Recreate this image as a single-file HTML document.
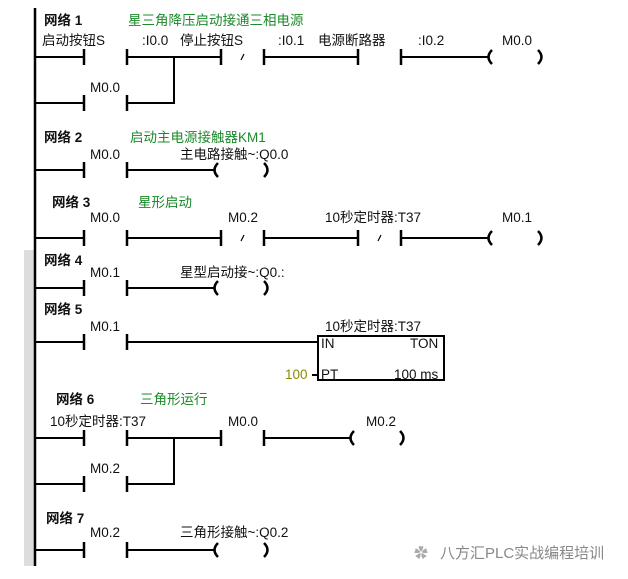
<!DOCTYPE html>
<html><head><meta charset="utf-8"><style>
html,body{margin:0;padding:0;background:#fff;}
svg{display:block;}
text{font-family:"Liberation Sans","Noto Sans CJK SC",sans-serif;font-size:13.5px;fill:#111;}
.n{font-weight:bold;font-size:13.5px;}
.g{fill:#1a8a2a;}
</style></head><body>
<svg width="628" height="579" viewBox="0 0 628 579" xmlns="http://www.w3.org/2000/svg">
<defs>
<g id="no"><line x1="0" y1="-8" x2="0" y2="8" stroke="#000" stroke-width="2.5"/><line x1="43" y1="-8" x2="43" y2="8" stroke="#000" stroke-width="2.5"/></g>
<g id="nc"><use href="#no"/><line x1="20" y1="3" x2="23" y2="-3" stroke="#000" stroke-width="1.2"/></g>
<g id="coil"><path d="M6,-7 Q-1,0 6,7" fill="none" stroke="#000" stroke-width="2.5"/><path d="M52,-7 Q59,0 52,7" fill="none" stroke="#000" stroke-width="2.5"/></g>
</defs>
<rect x="24" y="250" width="10" height="316" fill="#ddd"/>
<line x1="35" y1="8" x2="35" y2="566" stroke="#000" stroke-width="2.5"/>
<g stroke="#000" stroke-width="2" fill="none">
<path d="M35,57H84M127,57H221M264,57H358M401,57H488"/>
<path d="M35,103H84M127,103H174V57"/>
<path d="M35,170H84M127,170H214"/>
<path d="M35,238H84M127,238H221M264,238H358M401,238H488"/>
<path d="M35,288H84M127,288H214"/>
<path d="M35,342H84M127,342H318"/>
<rect x="318" y="336" width="126" height="44"/>
<path d="M312,375H318"/>
<path d="M35,438H84M127,438H221M264,438H350"/>
<path d="M35,484H84M127,484H174V438"/>
<path d="M35,550H84M127,550H214"/>
</g>
<use href="#no" x="84" y="57"/><use href="#nc" x="221" y="57"/><use href="#no" x="358" y="57"/><use href="#coil" x="486" y="57"/>
<use href="#no" x="84" y="103"/>
<use href="#no" x="84" y="170"/><use href="#coil" x="212" y="170"/>
<use href="#no" x="84" y="238"/><use href="#nc" x="221" y="238"/><use href="#nc" x="358" y="238"/><use href="#coil" x="486" y="238"/>
<use href="#no" x="84" y="288"/><use href="#coil" x="212" y="288"/>
<use href="#no" x="84" y="342"/>
<use href="#no" x="84" y="438"/><use href="#no" x="221" y="438"/><use href="#coil" x="348" y="438"/>
<use href="#no" x="84" y="484"/>
<use href="#no" x="84" y="550"/><use href="#coil" x="212" y="550"/>

<text class="n" x="44" y="25">网络 1</text><text class="g" x="128" y="25">星三角降压启动接通三相电源</text>
<text x="42" y="45">启动按钮S</text><text x="142" y="45">:I0.0</text><text x="180" y="45">停止按钮S</text><text x="278" y="45">:I0.1</text><text x="318" y="45">电源断路器</text><text x="418" y="45">:I0.2</text><text x="502" y="45">M0.0</text>
<text x="90" y="92">M0.0</text>

<text class="n" x="44" y="142">网络 2</text><text class="g" x="130" y="142">启动主电源接触器KM1</text>
<text x="90" y="159">M0.0</text><text x="180" y="159">主电路接触~:Q0.0</text>

<text class="n" x="52" y="207">网络 3</text><text class="g" x="138" y="207">星形启动</text>
<text x="90" y="222">M0.0</text><text x="228" y="222">M0.2</text><text x="325" y="222">10秒定时器:T37</text><text x="502" y="222">M0.1</text>

<text class="n" x="44" y="265">网络 4</text>
<text x="90" y="277">M0.1</text><text x="180" y="277">星型启动接~:Q0.:</text>

<text class="n" x="44" y="314">网络 5</text>
<text x="90" y="331">M0.1</text><text x="325" y="331">10秒定时器:T37</text>
<text x="321" y="348">IN</text><text x="410" y="348">TON</text>
<text x="321" y="379">PT</text><text x="394" y="379">100 ms</text>
<text x="285" y="379" style="fill:#8a8a00">100</text>

<text class="n" x="56" y="404">网络 6</text><text class="g" x="140" y="404">三角形运行</text>
<text x="50" y="426">10秒定时器:T37</text><text x="228" y="426">M0.0</text><text x="366" y="426">M0.2</text>
<text x="90" y="473">M0.2</text>

<text class="n" x="46" y="523">网络 7</text>
<text x="90" y="537">M0.2</text><text x="180" y="537">三角形接触~:Q0.2</text>
<text x="440" y="558" style="fill:#888;font-size:15px">八方汇PLC实战编程培训</text>
<text x="414" y="558" style="fill:#aaa;font-size:14px">✿</text>
</svg>
</body></html>
